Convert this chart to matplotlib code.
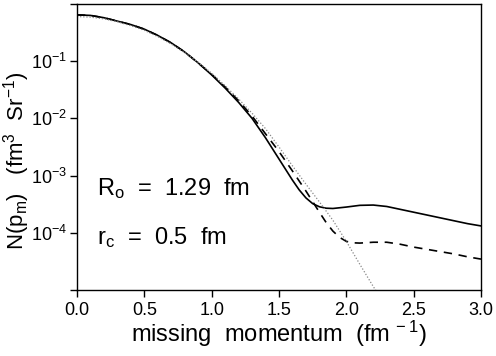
import numpy as np
import matplotlib
matplotlib.use("Agg")
import matplotlib.pyplot as plt

plt.rcParams["font.family"] = ["Liberation Sans", "DejaVu Sans"]
plt.rcParams["mathtext.default"] = "regular"

# missing momentum (fm^-1) and log10 of N(p_m)
p_solid = [0.0, 0.1, 0.2, 0.3, 0.4, 0.5, 0.6, 0.7, 0.8, 0.9, 1.0,
           1.1, 1.2, 1.3, 1.4, 1.5, 1.6, 1.65, 1.7, 1.75, 1.8, 1.85, 1.9, 2.0,
           2.1, 2.2, 2.3, 2.4, 2.5, 2.6, 2.7, 2.8, 2.9, 3.0]
solid_log10 = [-0.19, -0.20, -0.24, -0.30, -0.36, -0.44, -0.55, -0.68, -0.84, -1.03, -1.24,
               -1.47, -1.72, -2.00, -2.34, -2.71, -3.08, -3.25, -3.39, -3.49, -3.545, -3.57, -3.575, -3.55,
               -3.52, -3.515, -3.54, -3.59, -3.64, -3.69, -3.74, -3.79, -3.84, -3.88]

p_dashed = [0.0, 0.1, 0.2, 0.3, 0.4, 0.5, 0.6, 0.7, 0.8, 0.9, 1.0,
            1.1, 1.2, 1.3, 1.4, 1.5, 1.6, 1.7, 1.8, 1.85, 1.9, 1.95, 2.0, 2.05,
            2.1, 2.2, 2.3, 2.4, 2.5, 2.6, 2.7, 2.8, 2.9, 3.0]
dashed_log10 = [-0.19, -0.20, -0.24, -0.30, -0.36, -0.44, -0.55, -0.68, -0.84, -1.03, -1.23,
                -1.45, -1.69, -1.96, -2.27, -2.58, -2.92, -3.27, -3.64, -3.82, -3.97, -4.08, -4.15, -4.175,
                -4.18, -4.165, -4.165, -4.20, -4.25, -4.29, -4.33, -4.37, -4.42, -4.46]

p_dotted = [0.0, 0.1, 0.2, 0.3, 0.4, 0.5, 0.6, 0.7, 0.8, 0.9, 1.0,
            1.1, 1.2, 1.3, 1.4, 1.5, 1.6, 1.7, 1.8, 1.9, 2.0, 2.1, 2.2, 2.25]
dotted_log10 = [-0.22, -0.23, -0.26, -0.31, -0.38, -0.46, -0.57, -0.70, -0.85, -1.02, -1.21,
                -1.43, -1.66, -1.91, -2.18, -2.50, -2.83, -3.15, -3.46, -3.78, -4.15,
                -4.55, -4.94, -5.12]

x_ticks = [0.0, 0.5, 1.0, 1.5, 2.0, 2.5, 3.0]
y_ticks = [1e0, 1e-1, 1e-2, 1e-3, 1e-4, 1e-5]
y_labels = ["", r"$10^{-1}$", r"$10^{-2}$", r"$10^{-3}$", r"$10^{-4}$", ""]

fig = plt.figure(figsize=(4.96, 3.56), dpi=100)
ax = fig.add_axes([0.1552, 0.1854, 0.8146, 0.8034])

ax.semilogy(p_solid, 10.0 ** np.array(solid_log10), color="black", lw=1.2)
ax.semilogy(p_dashed, 10.0 ** np.array(dashed_log10), color="black", lw=1.2,
            linestyle=(0, (5, 4)))
ax.semilogy(p_dotted, 10.0 ** np.array(dotted_log10), color="#888888", lw=0.9,
            linestyle=(0, (1, 1.5)))

ax.set_xlim(0, 3.0)
ax.set_ylim(1e-5, 1e0)
ax.set_xticks(x_ticks)
ax.set_xticklabels([f"{v:.1f}" for v in x_ticks])
ax.set_yticks(y_ticks)
ax.set_yticklabels(y_labels)
ax.yaxis.set_minor_locator(matplotlib.ticker.NullLocator())
ax.tick_params(direction="out", length=5, width=1, labelsize=13, colors="black")
ax.tick_params(axis="y", pad=2)

for s in ax.spines.values():
    s.set_linewidth(1.0)

ax.set_xlabel(r"missing  momentum  (fm$^{\,-1}$)", fontsize=17, labelpad=0)
ax.set_ylabel(r"N(p$_m$)   (fm$^3$  Sr$^{-1}$)", fontsize=16)
ax.yaxis.set_label_coords(-0.112, 0.45)

ax.text(0.15, 10 ** -3.22, r"R$_o$  =  1.29  fm", fontsize=17, va="center")
ax.text(0.15, 10 ** -4.09, r"r$_c$  =  0.5  fm", fontsize=17, va="center")

fig.savefig("out.png", dpi=100)
